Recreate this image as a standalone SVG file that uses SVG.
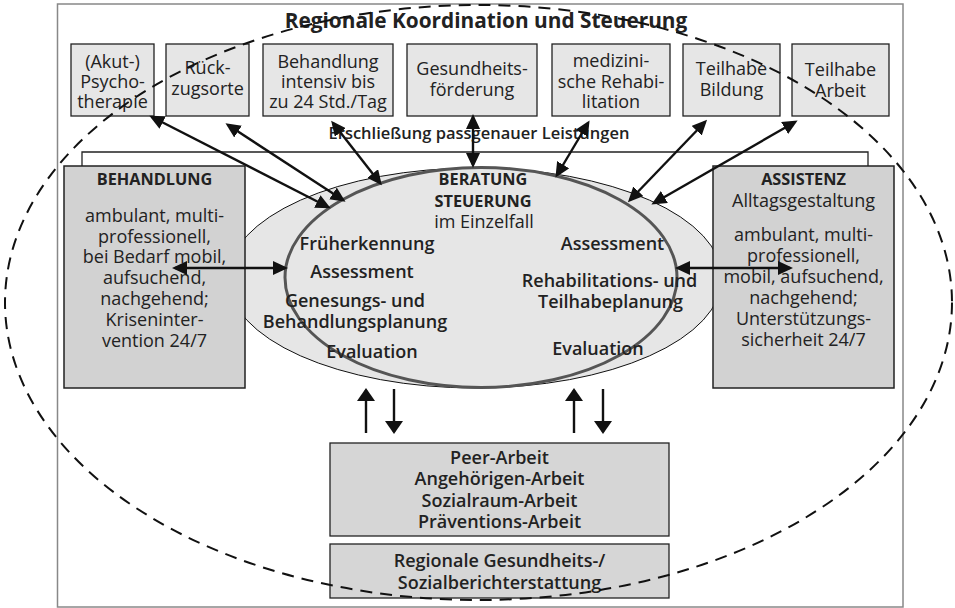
<svg xmlns="http://www.w3.org/2000/svg" width="955" height="608" viewBox="0 0 955 608">
<style>
text{font-family:"Open Sans","Liberation Sans",sans-serif;fill:#222;text-anchor:middle}
.t{font-size:18px}
.b{font-size:16.3px;font-weight:700}
.s{font-size:18px;font-weight:600}
.box{fill:#e6e6e6;stroke:#222;stroke-width:1.3}
.side{fill:#d2d2d2;stroke:#222;stroke-width:1.5}
.bot{fill:#d6d6d6;stroke:#222;stroke-width:1.3}
.ar{stroke:#111;stroke-width:2.4;fill:none}
</style>
<defs>
<marker id="ah" markerUnits="userSpaceOnUse" markerWidth="15" markerHeight="14" refX="12" refY="7" orient="auto-start-reverse">
<path d="M0,0 L15,7 L0,14 z" fill="#111"/>
</marker>
<marker id="ahb" markerUnits="userSpaceOnUse" markerWidth="13" markerHeight="18" refX="11" refY="9" orient="auto">
<path d="M0,0 L13,9 L0,18 z" fill="#111"/>
</marker>
</defs>
<rect width="955" height="608" fill="#fff"/>
<g id="frame">
<rect x="57.5" y="4" width="845.5" height="603" fill="#fff" stroke="#888" stroke-width="1.5"/>
<text x="486" y="28" style="font-size:20.8px;font-weight:700">Regionale Koordination und Steuerung</text>
</g>
<g id="erschliessung">
<path d="M82,168 V152 H868 V168" fill="none" stroke="#222" stroke-width="1.3"/>
<text x="479" y="139" style="font-size:16.5px;font-weight:600">Erschließung passgenauer Leistungen</text>
</g>
<g id="akut">
<rect class="box" x="71" y="44" width="83" height="72"/>
<text class="t" x="112.5" y="68">(Akut-)</text><text class="t" x="112.5" y="88">Psycho-</text><text class="t" x="112.5" y="108">therapie</text>
</g>
<g id="rueckzug">
<rect class="box" x="166" y="44" width="83" height="72"/>
<text class="t" x="207.5" y="74">Rück-</text><text class="t" x="207.5" y="95">zugsorte</text>
</g>
<g id="intensiv">
<rect class="box" x="263" y="44" width="130" height="72"/>
<text class="t" x="328" y="68">Behandlung</text><text class="t" x="328" y="88">intensiv bis</text><text class="t" x="328" y="108">zu 24 Std./Tag</text>
</g>
<g id="gesundheit">
<rect class="box" x="407" y="44" width="130" height="72"/>
<text class="t" x="472" y="75">Gesundheits-</text><text class="t" x="472" y="96">förderung</text>
</g>
<g id="medreha">
<rect class="box" x="552" y="44" width="118" height="72"/>
<text class="t" x="611" y="67">medizini-</text><text class="t" x="611" y="88">sche Rehabi-</text><text class="t" x="611" y="108">litation</text>
</g>
<g id="bildung">
<rect class="box" x="683" y="44" width="97" height="72"/>
<text class="t" x="731.5" y="75">Teilhabe</text><text class="t" x="731.5" y="96">Bildung</text>
</g>
<g id="arbeit">
<rect class="box" x="792" y="44" width="97" height="72"/>
<text class="t" x="840.5" y="76">Teilhabe</text><text class="t" x="840.5" y="97">Arbeit</text>
</g>
<g id="beratung">
<ellipse cx="475" cy="278" rx="247" ry="110" fill="#e6e6e6" stroke="#111" stroke-width="1"/>
<ellipse cx="481" cy="277.5" rx="196" ry="110" fill="none" stroke="#555" stroke-width="3"/>
<text class="b" x="483" y="185">BERATUNG</text>
<text class="b" x="483" y="207">STEUERUNG</text>
<text class="t" x="484" y="228">im Einzelfall</text>
<text class="s" x="367" y="250">Früherkennung</text>
<text class="s" x="362" y="278">Assessment</text>
<text class="s" x="355" y="307">Genesungs- und</text>
<text class="s" x="355" y="328">Behandlungsplanung</text>
<text class="s" x="372" y="358">Evaluation</text>
<text class="s" x="612.5" y="250">Assessment</text>
<text class="s" x="609.5" y="287">Rehabilitations- und</text>
<text class="s" x="610.5" y="308">Teilhabeplanung</text>
<text class="s" x="598" y="355">Evaluation</text>
</g>
<g id="behandlung">
<rect class="side" x="64" y="166" width="181" height="222"/>
<text class="b" x="154.5" y="185">BEHANDLUNG</text>
<text class="t" x="154.5" y="222">ambulant, multi-</text>
<text class="t" x="154.5" y="243">professionell,</text>
<text class="t" x="154.5" y="263">bei Bedarf mobil,</text>
<text class="t" x="154.5" y="284">aufsuchend,</text>
<text class="t" x="154.5" y="305">nachgehend;</text>
<text class="t" x="154.5" y="326">Kriseninter-</text>
<text class="t" x="154.5" y="347">vention 24/7</text>
</g>
<g id="assistenz">
<rect class="side" x="713" y="166" width="181" height="222"/>
<text class="b" x="803.5" y="185">ASSISTENZ</text>
<text class="t" x="803.5" y="207">Alltagsgestaltung</text>
<text class="t" x="803.5" y="241">ambulant, multi-</text>
<text class="t" x="803.5" y="262">professionell,</text>
<text class="t" x="803.5" y="283">mobil, aufsuchend,</text>
<text class="t" x="803.5" y="304">nachgehend;</text>
<text class="t" x="803.5" y="325">Unterstützungs-</text>
<text class="t" x="803.5" y="346">sicherheit 24/7</text>
</g>
<g id="peer">
<rect class="bot" x="330" y="443" width="339" height="93"/>
<text class="s" x="499.5" y="464">Peer-Arbeit</text>
<text class="s" x="499.5" y="485">Angehörigen-Arbeit</text>
<text class="s" x="499.5" y="507">Sozialraum-Arbeit</text>
<text class="s" x="499.5" y="528">Präventions-Arbeit</text>
</g>
<g id="bericht">
<rect class="bot" x="330" y="544" width="339" height="54"/>
<text class="s" x="499.5" y="567">Regionale Gesundheits-/</text>
<text class="s" x="499.5" y="589">Sozialberichterstattung</text>
</g>
<g id="connectors">
<line class="ar" x1="152" y1="117" x2="328" y2="207" marker-start="url(#ah)" marker-end="url(#ah)"/>
<line class="ar" x1="228" y1="125" x2="343" y2="200" marker-start="url(#ah)" marker-end="url(#ah)"/>
<line class="ar" x1="333" y1="123" x2="380" y2="183" marker-start="url(#ah)" marker-end="url(#ah)"/>
<line class="ar" x1="473" y1="117" x2="473" y2="165" marker-start="url(#ah)" marker-end="url(#ah)"/>
<line class="ar" x1="588" y1="123" x2="557" y2="175" marker-start="url(#ah)" marker-end="url(#ah)"/>
<line class="ar" x1="705" y1="122" x2="630" y2="200" marker-start="url(#ah)" marker-end="url(#ah)"/>
<line class="ar" x1="795" y1="122" x2="654" y2="203" marker-start="url(#ah)" marker-end="url(#ah)"/>
<line class="ar" x1="175" y1="268" x2="285" y2="268" marker-start="url(#ah)" marker-end="url(#ah)"/>
<line class="ar" x1="678" y1="268" x2="790" y2="268" marker-start="url(#ah)" marker-end="url(#ah)"/>
<line class="ar" x1="366" y1="433" x2="366" y2="390" marker-end="url(#ahb)"/>
<line class="ar" x1="394" y1="389" x2="394" y2="432" marker-end="url(#ahb)"/>
<line class="ar" x1="574" y1="433" x2="574" y2="390" marker-end="url(#ahb)"/>
<line class="ar" x1="603" y1="389" x2="603" y2="432" marker-end="url(#ahb)"/>
</g>
<g id="region">
<ellipse cx="478.5" cy="302.5" rx="473.5" ry="297.5" fill="none" stroke="#111" stroke-width="2" stroke-dasharray="12 8"/>
</g>
</svg>
